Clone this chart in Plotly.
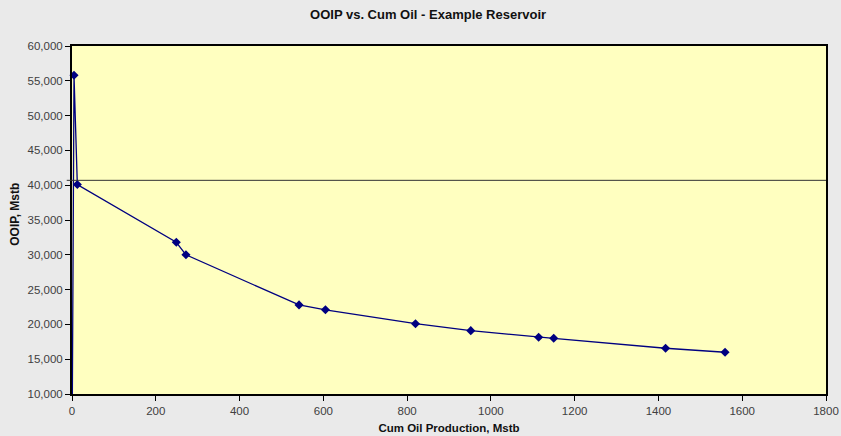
import plotly.graph_objects as go

# Data
cum_oil = [0, 4.8, 12.7, 249, 272, 542, 605, 820, 952, 1114, 1150, 1417, 1559]
ooip = [0, 55800, 40100, 31800, 30000, 22800, 22100, 20100, 19100, 18150, 18000, 16570, 16000]
marker_flags = [False] + [True] * 12
ref_line_value = 40700

x_ticks = [0, 200, 400, 600, 800, 1000, 1200, 1400, 1600, 1800]
y_ticks = [10000, 15000, 20000, 25000, 30000, 35000, 40000, 45000, 50000, 55000, 60000]

navy = "#000080"
font_family = "Liberation Sans, Arial, sans-serif"

fig = go.Figure()
fig.add_trace(go.Scatter(
    x=cum_oil, y=ooip, mode="lines",
    line=dict(color=navy, width=1.3),
    showlegend=False, hoverinfo="skip",
))
fig.add_trace(go.Scatter(
    x=[x for x, m in zip(cum_oil, marker_flags) if m],
    y=[y for y, m in zip(ooip, marker_flags) if m],
    mode="markers",
    marker=dict(symbol="diamond", size=7, color=navy, line=dict(width=0)),
    showlegend=False, cliponaxis=False,
))

fig.add_shape(type="line", xref="paper", yref="y",
              x0=-0.007, x1=1, y0=ref_line_value, y1=ref_line_value,
              line=dict(color="#333333", width=1))

fig.add_annotation(text="<b>OOIP, Mstb</b>", xref="paper", yref="paper",
                   x=-0.076, y=0.517, xanchor="center", yanchor="middle",
                   textangle=-90, showarrow=False,
                   font=dict(size=12, color="#111111", family=font_family))

fig.update_layout(
    width=841, height=436,
    paper_bgcolor="#EAEAEA",
    plot_bgcolor="#FFFFC0",
    margin=dict(l=72, r=15, t=46, b=42),
    font=dict(family=font_family, size=11.5, color="#404040"),
    title=dict(text="<b>OOIP vs. Cum Oil - Example Reservoir</b>",
               x=0.509, xref="container", xanchor="center",
               y=0.968, yref="container", yanchor="middle",
               font=dict(size=13, color="#111111", family=font_family)),
    xaxis=dict(
        range=[0, 1800], tickvals=x_ticks, ticktext=[str(v) for v in x_ticks],
        showgrid=False, zeroline=False, automargin=False,
        showline=True, linecolor="#000000", linewidth=2, mirror=True,
        ticks="outside", ticklen=5, tickcolor="#000000", tickwidth=1,
        tickfont=dict(size=11.5, color="#404040"),
        title=dict(text="<b>Cum Oil Production, Mstb</b>", standoff=8,
                   font=dict(size=11.5, color="#111111")),
    ),
    yaxis=dict(
        range=[10000, 60000], tickvals=y_ticks, tickformat=",",
        showgrid=False, zeroline=False, automargin=False,
        showline=True, linecolor="#000000", linewidth=2, mirror=True,
        ticks="outside", ticklen=5, tickcolor="#000000", tickwidth=1,
        tickfont=dict(size=11.5, color="#404040"),
    ),
)

fig.write_html("out.html", config={"displayModeBar": False},
               post_script="document.body.style.margin='0';")
